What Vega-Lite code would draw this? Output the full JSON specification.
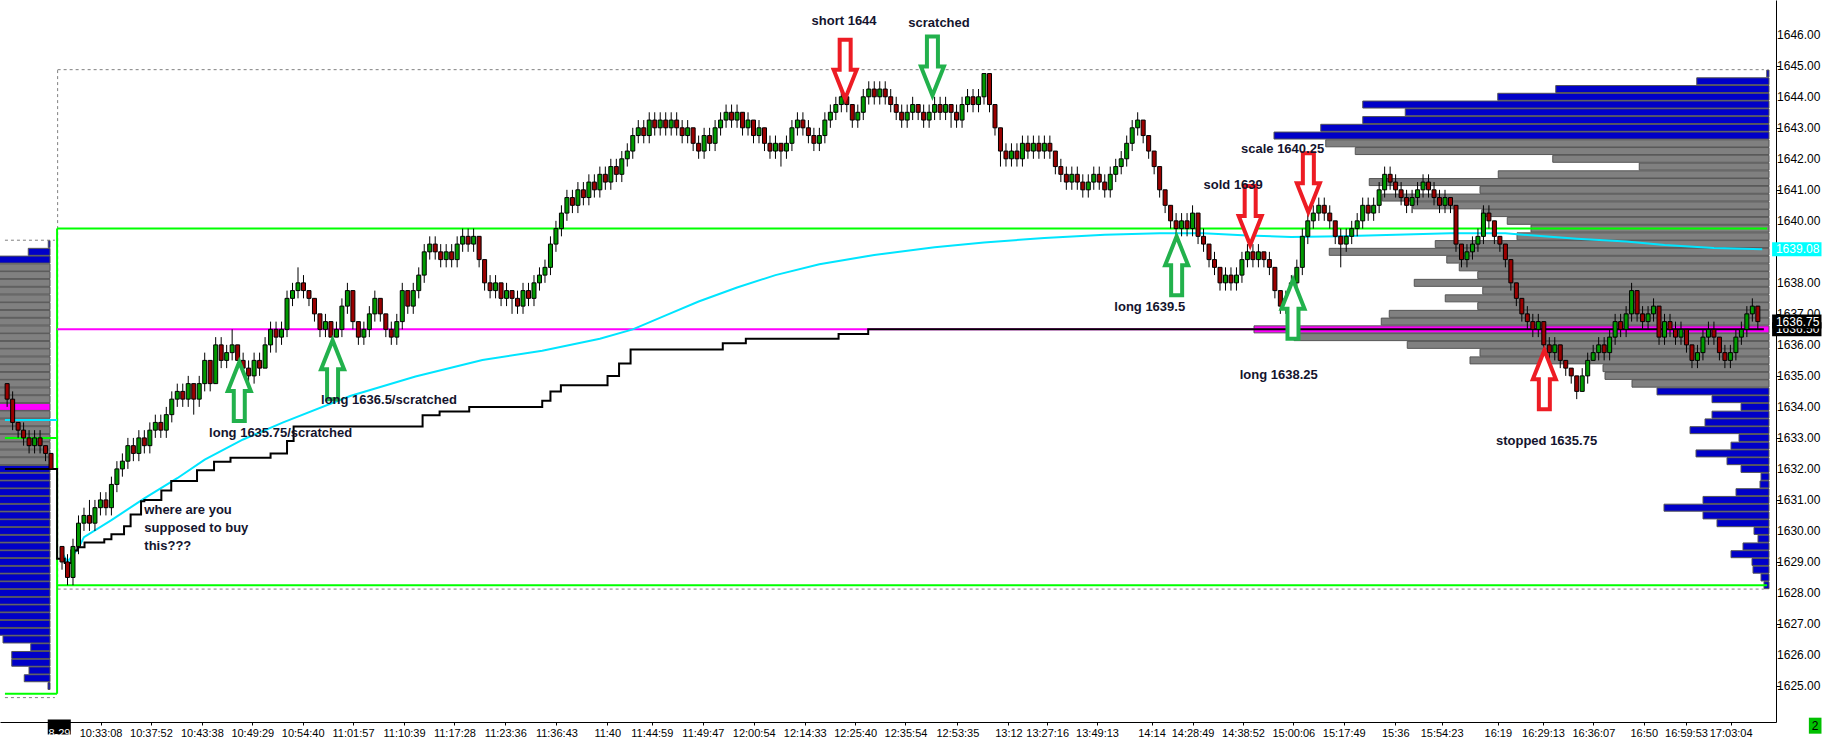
{
  "$schema": "https://vega.github.io/schema/vega-lite/v6.json",
  "width": 1776,
  "height": 722,
  "autosize": {"type": "none"},
  "padding": {"left": 0, "top": 0, "right": 50, "bottom": 18},
  "background": "white",
  "config": {
    "view": {"stroke": null},
    "axis": {"grid": false, "domainColor": "black", "tickColor": "black", "labelColor": "black", "labelFont": "Liberation Sans"}
  },
  "datasets": {
    "rightProfile": [
      {"p":1644.75,"v":9,"t":"out"},{"p":1644.5,"v":289,"t":"out"},{"p":1644.25,"v":853,"t":"out"},{"p":1644,"v":1085,"t":"out"},
      {"p":1643.75,"v":1625,"t":"out"},{"p":1643.5,"v":1455,"t":"out"},{"p":1643.25,"v":1625,"t":"out"},{"p":1643,"v":1793,"t":"out"},
      {"p":1642.75,"v":1980,"t":"out"},{"p":1642.5,"v":1773,"t":"va"},{"p":1642.25,"v":1655,"t":"va"},{"p":1642,"v":865,"t":"va"},
      {"p":1641.75,"v":519,"t":"va"},{"p":1641.5,"v":1083,"t":"va"},{"p":1641.25,"v":1599,"t":"va"},{"p":1641,"v":1156,"t":"va"},
      {"p":1640.75,"v":1547,"t":"va"},{"p":1640.5,"v":1423,"t":"va"},{"p":1640.25,"v":1149,"t":"va"},{"p":1640,"v":1047,"t":"va"},
      {"p":1639.75,"v":952,"t":"va"},{"p":1639.5,"v":1008,"t":"va"},{"p":1639.25,"v":1335,"t":"va"},{"p":1639,"v":1759,"t":"va"},
      {"p":1638.75,"v":1289,"t":"va"},{"p":1638.5,"v":1239,"t":"va"},{"p":1638.25,"v":1165,"t":"va"},{"p":1638,"v":1419,"t":"va"},
      {"p":1637.75,"v":1145,"t":"va"},{"p":1637.5,"v":1295,"t":"va"},{"p":1637.25,"v":1165,"t":"va"},{"p":1637,"v":1519,"t":"va"},
      {"p":1636.75,"v":1551,"t":"va"},{"p":1636.5,"v":2060,"t":"poc"},{"p":1636.25,"v":1900,"t":"va"},{"p":1636,"v":1447,"t":"va"},
      {"p":1635.75,"v":1156,"t":"va"},{"p":1635.5,"v":1196,"t":"va"},{"p":1635.25,"v":664,"t":"va"},{"p":1635,"v":656,"t":"va"},
      {"p":1634.75,"v":548,"t":"va"},{"p":1634.5,"v":448,"t":"out"},{"p":1634.25,"v":228,"t":"out"},{"p":1634,"v":112,"t":"out"},
      {"p":1633.75,"v":228,"t":"out"},{"p":1633.5,"v":256,"t":"out"},{"p":1633.25,"v":316,"t":"out"},{"p":1633,"v":120,"t":"out"},
      {"p":1632.75,"v":152,"t":"out"},{"p":1632.5,"v":292,"t":"out"},{"p":1632.25,"v":168,"t":"out"},{"p":1632,"v":112,"t":"out"},
      {"p":1631.75,"v":32,"t":"out"},{"p":1631.5,"v":36,"t":"out"},{"p":1631.25,"v":132,"t":"out"},{"p":1631,"v":264,"t":"out"},
      {"p":1630.75,"v":420,"t":"out"},{"p":1630.5,"v":264,"t":"out"},{"p":1630.25,"v":208,"t":"out"},{"p":1630,"v":60,"t":"out"},
      {"p":1629.75,"v":44,"t":"out"},{"p":1629.5,"v":104,"t":"out"},{"p":1629.25,"v":152,"t":"out"},{"p":1629,"v":68,"t":"out"},
      {"p":1628.75,"v":64,"t":"out"},{"p":1628.5,"v":32,"t":"out"},{"p":1628.25,"v":20,"t":"out"}
    ],
    "leftProfile": [
      {"p":1639.25,"v":7,"t":"out"},{"p":1639,"v":87,"t":"out"},{"p":1638.75,"v":260,"t":"out"},
      {"p":1638.5,"v":380,"t":"va"},{"p":1638.25,"v":420,"t":"va"},{"p":1638,"v":460,"t":"va"},{"p":1637.75,"v":520,"t":"va"},
      {"p":1637.5,"v":480,"t":"va"},{"p":1637.25,"v":560,"t":"va"},{"p":1637,"v":600,"t":"va"},{"p":1636.75,"v":640,"t":"va"},
      {"p":1636.5,"v":580,"t":"va"},{"p":1636.25,"v":620,"t":"va"},{"p":1636,"v":700,"t":"va"},{"p":1635.75,"v":660,"t":"va"},
      {"p":1635.5,"v":720,"t":"va"},{"p":1635.25,"v":760,"t":"va"},{"p":1635,"v":800,"t":"va"},{"p":1634.75,"v":840,"t":"va"},
      {"p":1634.5,"v":780,"t":"va"},{"p":1634.25,"v":860,"t":"va"},{"p":1634,"v":920,"t":"poc"},{"p":1633.75,"v":820,"t":"va"},
      {"p":1633.5,"v":740,"t":"va"},{"p":1633.25,"v":680,"t":"va"},{"p":1633,"v":640,"t":"va"},{"p":1632.75,"v":560,"t":"va"},
      {"p":1632.5,"v":520,"t":"va"},{"p":1632.25,"v":480,"t":"va"},
      {"p":1632,"v":460,"t":"out"},{"p":1631.75,"v":440,"t":"out"},{"p":1631.5,"v":420,"t":"out"},{"p":1631.25,"v":400,"t":"out"},
      {"p":1631,"v":430,"t":"out"},{"p":1630.75,"v":410,"t":"out"},{"p":1630.5,"v":380,"t":"out"},{"p":1630.25,"v":360,"t":"out"},
      {"p":1630,"v":390,"t":"out"},{"p":1629.75,"v":350,"t":"out"},{"p":1629.5,"v":330,"t":"out"},{"p":1629.25,"v":340,"t":"out"},
      {"p":1629,"v":310,"t":"out"},{"p":1628.75,"v":300,"t":"out"},{"p":1628.5,"v":320,"t":"out"},{"p":1628.25,"v":290,"t":"out"},
      {"p":1628,"v":280,"t":"out"},{"p":1627.75,"v":270,"t":"out"},{"p":1627.5,"v":260,"t":"out"},{"p":1627.25,"v":250,"t":"out"},
      {"p":1627,"v":240,"t":"out"},{"p":1626.75,"v":230,"t":"out"},{"p":1626.5,"v":188,"t":"out"},{"p":1626.25,"v":77,"t":"out"},
      {"p":1626,"v":153,"t":"out"},{"p":1625.75,"v":153,"t":"out"},{"p":1625.5,"v":84,"t":"out"},{"p":1625.25,"v":103,"t":"out"},
      {"p":1625,"v":8,"t":"out"}
    ],
    "priceLabels": [
      {"p":1625,"t":"1625.00"},{"p":1626,"t":"1626.00"},{"p":1627,"t":"1627.00"},{"p":1628,"t":"1628.00"},
      {"p":1629,"t":"1629.00"},{"p":1630,"t":"1630.00"},{"p":1631,"t":"1631.00"},{"p":1632,"t":"1632.00"},
      {"p":1633,"t":"1633.00"},{"p":1634,"t":"1634.00"},{"p":1635,"t":"1635.00"},{"p":1636,"t":"1636.00"},
      {"p":1637,"t":"1637.00"},{"p":1638,"t":"1638.00"},{"p":1640,"t":"1640.00"},{"p":1641,"t":"1641.00"},
      {"p":1642,"t":"1642.00"},{"p":1643,"t":"1643.00"},{"p":1644,"t":"1644.00"},{"p":1645,"t":"1645.00"},
      {"p":1646,"t":"1646.00"}
    ],
    "dashLines": [
      {"x0":1.2,"x1":312.1,"p0":1644.875,"p1":1644.875},
      {"x0":1.2,"x1":312.1,"p0":1628.125,"p1":1628.125},
      {"x0":1.2,"x1":1.2,"p0":1628.125,"p1":1644.875},
      {"x0":-8.4,"x1":0.7,"p0":1639.375,"p1":1639.375},
      {"x0":-8.4,"x1":0.7,"p0":1624.625,"p1":1624.625}
    ],
    "greenLines": [
      {"x0":1.1,"x1":312.7,"p0":1639.75,"p1":1639.75},
      {"x0":1.1,"x1":312.7,"p0":1628.25,"p1":1628.25},
      {"x0":1.1,"x1":1.1,"p0":1624.75,"p1":1639.75},
      {"x0":-8.4,"x1":1.1,"p0":1633,"p1":1633},
      {"x0":-8.4,"x1":1.1,"p0":1624.75,"p1":1624.75}
    ],
    "pocLine": [
      {"x0":1.1,"x1":312.1,"p0":1636.5,"p1":1636.5}
    ],
    "vwap": [
      {"s":"prev","i":-8.4,"p":1633.58},{"s":"prev","i":1.1,"p":1633.58},
      {"s":"today","i":2,"p":1629.3},{"s":"today","i":3,"p":1629.0},{"s":"today","i":5,"p":1629.45},{"s":"today","i":6,"p":1629.8},
      {"s":"today","i":11,"p":1630.35},{"s":"today","i":17,"p":1631.05},{"s":"today","i":23,"p":1631.7},{"s":"today","i":28,"p":1632.3},
      {"s":"today","i":35,"p":1632.95},{"s":"today","i":42.3,"p":1633.5},{"s":"today","i":54.5,"p":1634.35},{"s":"today","i":66.4,"p":1634.98},
      {"s":"today","i":78.6,"p":1635.51},{"s":"today","i":89.5,"p":1635.81},{"s":"today","i":100,"p":1636.2},{"s":"today","i":106,"p":1636.5},
      {"s":"today","i":112,"p":1636.95},{"s":"today","i":118,"p":1637.4},{"s":"today","i":125,"p":1637.85},{"s":"today","i":132,"p":1638.25},
      {"s":"today","i":140,"p":1638.6},{"s":"today","i":150,"p":1638.9},{"s":"today","i":161,"p":1639.15},{"s":"today","i":170,"p":1639.3},
      {"s":"today","i":181,"p":1639.45},{"s":"today","i":192,"p":1639.55},{"s":"today","i":202,"p":1639.6},{"s":"today","i":210,"p":1639.6},
      {"s":"today","i":218,"p":1639.53},{"s":"today","i":226,"p":1639.48},{"s":"today","i":235,"p":1639.5},{"s":"today","i":245,"p":1639.55},
      {"s":"today","i":255,"p":1639.6},{"s":"today","i":265,"p":1639.6},{"s":"today","i":272,"p":1639.5},{"s":"today","i":278,"p":1639.42},
      {"s":"today","i":287,"p":1639.33},{"s":"today","i":294,"p":1639.22},{"s":"today","i":303,"p":1639.12},{"s":"today","i":311.8,"p":1639.08}
    ],
    "steps": [
      {"i":-8.4,"p":1632},{"i":1.1,"p":1629.1},{"i":2.5,"p":1628.97},{"i":3.7,"p":1629.37},{"i":4.8,"p":1629.47},
      {"i":6.1,"p":1629.63},{"i":9.7,"p":1629.73},{"i":11,"p":1629.89},{"i":13.3,"p":1630.15},{"i":14.5,"p":1630.53},
      {"i":16.4,"p":1630.96},{"i":17,"p":1631},{"i":20.1,"p":1631.3},{"i":21.9,"p":1631.61},{"i":26.6,"p":1631.96},
      {"i":29.7,"p":1632.23},{"i":32.7,"p":1632.36},{"i":40,"p":1632.5},{"i":43,"p":1632.9},{"i":44.2,"p":1633.37},
      {"i":67.7,"p":1633.73},{"i":70.8,"p":1633.85},{"i":76.2,"p":1634},{"i":89.5,"p":1634.2},{"i":91,"p":1634.5},
      {"i":92.9,"p":1634.7},{"i":101.4,"p":1635},{"i":103.5,"p":1635.4},{"i":105.6,"p":1635.85},{"i":122.4,"p":1636.05},
      {"i":126.6,"p":1636.2},{"i":143.5,"p":1636.35},{"i":148.9,"p":1636.5},{"i":312.1,"p":1636.5}
    ],
    "bars": [
      {"i":-8,"o":1634.75,"h":1634.75,"l":1634,"c":1634.25},{"i":-7,"o":1634.25,"h":1634.5,"l":1633.25,"c":1633.5},
      {"i":-6,"o":1633.5,"h":1633.5,"l":1633,"c":1633.25},{"i":-5,"o":1633.25,"h":1633.5,"l":1632.75,"c":1633},
      {"i":-4,"o":1633,"h":1633.25,"l":1632.5,"c":1632.75},{"i":-3,"o":1632.75,"h":1633.25,"l":1632.5,"c":1633},
      {"i":-2,"o":1633,"h":1633.25,"l":1632.5,"c":1632.75},{"i":-1,"o":1632.75,"h":1632.75,"l":1632.25,"c":1632.5},
      {"i":0,"o":1632.5,"h":1632.5,"l":1632,"c":1632},
      {"i":2,"o":1629.5,"h":1629.5,"l":1628.75,"c":1629},{"i":3,"o":1629,"h":1629.25,"l":1628.25,"c":1628.5},
      {"i":4,"o":1628.5,"h":1629.75,"l":1628.25,"c":1629.5},{"i":5,"o":1629.5,"h":1630.5,"l":1629.25,"c":1630.25},
      {"i":6,"o":1630.25,"h":1630.75,"l":1630,"c":1630.5},{"i":7,"o":1630.5,"h":1631,"l":1630,"c":1630.25},
      {"i":8,"o":1630.25,"h":1631,"l":1630,"c":1630.75},{"i":9,"o":1630.75,"h":1631.25,"l":1630.5,"c":1631},
      {"i":10,"o":1631,"h":1631.25,"l":1630.5,"c":1630.75},{"i":11,"o":1630.75,"h":1631.75,"l":1630.5,"c":1631.5},
      {"i":12,"o":1631.5,"h":1632.25,"l":1631.25,"c":1632},{"i":13,"o":1632,"h":1632.5,"l":1631.75,"c":1632.25},
      {"i":14,"o":1632.25,"h":1633,"l":1632,"c":1632.75},{"i":15,"o":1632.75,"h":1633,"l":1632.25,"c":1632.5},
      {"i":16,"o":1632.5,"h":1633.25,"l":1632.25,"c":1633},{"i":17,"o":1633,"h":1633.25,"l":1632.5,"c":1632.75},
      {"i":18,"o":1632.75,"h":1633.5,"l":1632.5,"c":1633.25},{"i":19,"o":1633.25,"h":1633.75,"l":1633,"c":1633.5},
      {"i":20,"o":1633.5,"h":1633.75,"l":1633,"c":1633.25},{"i":21,"o":1633.25,"h":1634,"l":1633,"c":1633.75},
      {"i":22,"o":1633.75,"h":1634.5,"l":1633.5,"c":1634.25},{"i":23,"o":1634.25,"h":1634.75,"l":1634,"c":1634.5},
      {"i":24,"o":1634.5,"h":1634.75,"l":1634,"c":1634.25},{"i":25,"o":1634.25,"h":1635,"l":1634,"c":1634.75},
      {"i":26,"o":1634.75,"h":1634.75,"l":1633.75,"c":1634.25},{"i":27,"o":1634.25,"h":1635,"l":1634,"c":1634.75},
      {"i":28,"o":1634.75,"h":1635.75,"l":1634.5,"c":1635.5},{"i":29,"o":1635.5,"h":1635.5,"l":1634.5,"c":1634.75},
      {"i":30,"o":1634.75,"h":1636.25,"l":1634.75,"c":1636},{"i":31,"o":1636,"h":1636.25,"l":1635.25,"c":1635.5},
      {"i":32,"o":1635.5,"h":1636,"l":1635.25,"c":1635.75},{"i":33,"o":1635.75,"h":1636.5,"l":1635.5,"c":1636},
      {"i":34,"o":1636,"h":1636,"l":1635.5,"c":1635.5},{"i":35,"o":1635.5,"h":1635.75,"l":1635,"c":1635.25},
      {"i":36,"o":1635.25,"h":1635.5,"l":1634.75,"c":1635},{"i":37,"o":1635,"h":1635.75,"l":1634.75,"c":1635.5},
      {"i":38,"o":1635.5,"h":1635.75,"l":1635,"c":1635.25},{"i":39,"o":1635.25,"h":1636.25,"l":1635.25,"c":1636},
      {"i":40,"o":1636,"h":1636.75,"l":1635.75,"c":1636.5},{"i":41,"o":1636.5,"h":1636.75,"l":1635.75,"c":1636.25},
      {"i":42,"o":1636.25,"h":1636.75,"l":1636,"c":1636.5},{"i":43,"o":1636.5,"h":1637.75,"l":1636.25,"c":1637.5},
      {"i":44,"o":1637.5,"h":1638,"l":1637.25,"c":1637.75},{"i":45,"o":1637.75,"h":1638.5,"l":1637.5,"c":1638},
      {"i":46,"o":1638,"h":1638.25,"l":1637.5,"c":1637.75},{"i":47,"o":1637.75,"h":1637.75,"l":1637.25,"c":1637.5},
      {"i":48,"o":1637.5,"h":1637.5,"l":1636.75,"c":1637},{"i":49,"o":1637,"h":1637,"l":1636.25,"c":1636.5},
      {"i":50,"o":1636.5,"h":1637,"l":1636.25,"c":1636.75},{"i":51,"o":1636.75,"h":1636.75,"l":1636.25,"c":1636.25},
      {"i":52,"o":1636.25,"h":1636.75,"l":1636.25,"c":1636.5},{"i":53,"o":1636.5,"h":1637.5,"l":1636.25,"c":1637.25},
      {"i":54,"o":1637.25,"h":1638,"l":1637,"c":1637.75},{"i":55,"o":1637.75,"h":1637.75,"l":1636.5,"c":1636.75},
      {"i":56,"o":1636.75,"h":1636.75,"l":1636,"c":1636.25},{"i":57,"o":1636.25,"h":1636.75,"l":1636,"c":1636.5},
      {"i":58,"o":1636.5,"h":1637.25,"l":1636.25,"c":1637},{"i":59,"o":1637,"h":1637.75,"l":1636.75,"c":1637.5},
      {"i":60,"o":1637.5,"h":1637.5,"l":1636.75,"c":1637},{"i":61,"o":1637,"h":1637,"l":1636.25,"c":1636.5},
      {"i":62,"o":1636.5,"h":1636.75,"l":1636,"c":1636.25},{"i":63,"o":1636.25,"h":1637,"l":1636,"c":1636.75},
      {"i":64,"o":1636.75,"h":1638,"l":1636.5,"c":1637.75},{"i":65,"o":1637.75,"h":1637.75,"l":1637,"c":1637.25},
      {"i":66,"o":1637.25,"h":1638,"l":1637,"c":1637.75},{"i":67,"o":1637.75,"h":1638.5,"l":1637.5,"c":1638.25},
      {"i":68,"o":1638.25,"h":1639.25,"l":1638,"c":1639},{"i":69,"o":1639,"h":1639.5,"l":1638.75,"c":1639.25},
      {"i":70,"o":1639.25,"h":1639.5,"l":1638.75,"c":1639},{"i":71,"o":1639,"h":1639.25,"l":1638.5,"c":1638.75},
      {"i":72,"o":1638.75,"h":1639.25,"l":1638.5,"c":1639},{"i":73,"o":1639,"h":1639.25,"l":1638.5,"c":1638.75},
      {"i":74,"o":1638.75,"h":1639.5,"l":1638.5,"c":1639.25},{"i":75,"o":1639.25,"h":1639.75,"l":1639,"c":1639.5},
      {"i":76,"o":1639.5,"h":1639.75,"l":1639,"c":1639.25},{"i":77,"o":1639.25,"h":1639.75,"l":1639,"c":1639.5},
      {"i":78,"o":1639.5,"h":1639.5,"l":1638.5,"c":1638.75},{"i":79,"o":1638.75,"h":1638.75,"l":1637.75,"c":1638},
      {"i":80,"o":1638,"h":1638.25,"l":1637.5,"c":1637.75},{"i":81,"o":1637.75,"h":1638.25,"l":1637.5,"c":1638},
      {"i":82,"o":1638,"h":1638,"l":1637.25,"c":1637.5},{"i":83,"o":1637.5,"h":1638,"l":1637.25,"c":1637.75},
      {"i":84,"o":1637.75,"h":1637.75,"l":1637,"c":1637.5},{"i":85,"o":1637.5,"h":1637.75,"l":1637,"c":1637.25},
      {"i":86,"o":1637.25,"h":1638,"l":1637,"c":1637.75},{"i":87,"o":1637.75,"h":1638,"l":1637.25,"c":1637.5},
      {"i":88,"o":1637.5,"h":1638.25,"l":1637.25,"c":1638},{"i":89,"o":1638,"h":1638.5,"l":1637.75,"c":1638.25},
      {"i":90,"o":1638.25,"h":1638.75,"l":1638,"c":1638.5},{"i":91,"o":1638.5,"h":1639.5,"l":1638.25,"c":1639.25},
      {"i":92,"o":1639.25,"h":1640,"l":1639,"c":1639.75},{"i":93,"o":1639.75,"h":1640.5,"l":1639.5,"c":1640.25},
      {"i":94,"o":1640.25,"h":1641,"l":1640,"c":1640.75},{"i":95,"o":1640.75,"h":1641,"l":1640.25,"c":1640.5},
      {"i":96,"o":1640.5,"h":1641.25,"l":1640.25,"c":1641},{"i":97,"o":1641,"h":1641.25,"l":1640.5,"c":1640.75},
      {"i":98,"o":1640.75,"h":1641.5,"l":1640.5,"c":1641.25},{"i":99,"o":1641.25,"h":1641.5,"l":1640.75,"c":1641},
      {"i":100,"o":1641,"h":1641.75,"l":1640.75,"c":1641.5},{"i":101,"o":1641.5,"h":1641.75,"l":1641,"c":1641.25},
      {"i":102,"o":1641.25,"h":1642,"l":1641,"c":1641.75},{"i":103,"o":1641.75,"h":1642,"l":1641.25,"c":1641.5},
      {"i":104,"o":1641.5,"h":1642.25,"l":1641.25,"c":1642},{"i":105,"o":1642,"h":1642.5,"l":1641.75,"c":1642.25},
      {"i":106,"o":1642.25,"h":1643,"l":1642,"c":1642.75},{"i":107,"o":1642.75,"h":1643.25,"l":1642.5,"c":1643},
      {"i":108,"o":1643,"h":1643.25,"l":1642.5,"c":1642.75},{"i":109,"o":1642.75,"h":1643.5,"l":1642.5,"c":1643.25},
      {"i":110,"o":1643.25,"h":1643.5,"l":1642.75,"c":1643},{"i":111,"o":1643,"h":1643.5,"l":1642.75,"c":1643.25},
      {"i":112,"o":1643.25,"h":1643.5,"l":1642.75,"c":1643},{"i":113,"o":1643,"h":1643.5,"l":1642.75,"c":1643.25},
      {"i":114,"o":1643.25,"h":1643.5,"l":1642.75,"c":1643},{"i":115,"o":1643,"h":1643.25,"l":1642.5,"c":1642.75},
      {"i":116,"o":1642.75,"h":1643.25,"l":1642.5,"c":1643},{"i":117,"o":1643,"h":1643,"l":1642.25,"c":1642.5},
      {"i":118,"o":1642.5,"h":1642.75,"l":1642,"c":1642.25},{"i":119,"o":1642.25,"h":1643,"l":1642,"c":1642.75},
      {"i":120,"o":1642.75,"h":1643,"l":1642.25,"c":1642.5},{"i":121,"o":1642.5,"h":1643.25,"l":1642.25,"c":1643},
      {"i":122,"o":1643,"h":1643.5,"l":1642.75,"c":1643.25},{"i":123,"o":1643.25,"h":1643.75,"l":1643,"c":1643.5},
      {"i":124,"o":1643.5,"h":1643.75,"l":1643,"c":1643.25},{"i":125,"o":1643.25,"h":1643.75,"l":1643,"c":1643.5},
      {"i":126,"o":1643.5,"h":1643.5,"l":1642.75,"c":1643},{"i":127,"o":1643,"h":1643.5,"l":1642.75,"c":1643.25},
      {"i":128,"o":1643.25,"h":1643.25,"l":1642.5,"c":1642.75},{"i":129,"o":1642.75,"h":1643.25,"l":1642.5,"c":1643},
      {"i":130,"o":1643,"h":1643,"l":1642.25,"c":1642.5},{"i":131,"o":1642.5,"h":1642.75,"l":1642,"c":1642.25},
      {"i":132,"o":1642.25,"h":1642.75,"l":1642,"c":1642.5},{"i":133,"o":1642.5,"h":1642.5,"l":1641.75,"c":1642.25},
      {"i":134,"o":1642.25,"h":1642.75,"l":1642,"c":1642.5},{"i":135,"o":1642.5,"h":1643.25,"l":1642.25,"c":1643},
      {"i":136,"o":1643,"h":1643.5,"l":1642.75,"c":1643.25},{"i":137,"o":1643.25,"h":1643.5,"l":1642.75,"c":1643},
      {"i":138,"o":1643,"h":1643.25,"l":1642.5,"c":1642.75},{"i":139,"o":1642.75,"h":1643,"l":1642.25,"c":1642.5},
      {"i":140,"o":1642.5,"h":1643,"l":1642.25,"c":1642.75},{"i":141,"o":1642.75,"h":1643.5,"l":1642.5,"c":1643.25},
      {"i":142,"o":1643.25,"h":1643.75,"l":1643,"c":1643.5},{"i":143,"o":1643.5,"h":1644,"l":1643.25,"c":1643.75},
      {"i":144,"o":1643.75,"h":1644.25,"l":1643.5,"c":1644},{"i":145,"o":1644,"h":1644,"l":1643.5,"c":1643.75},
      {"i":146,"o":1643.75,"h":1643.75,"l":1643,"c":1643.25},{"i":147,"o":1643.25,"h":1643.75,"l":1643,"c":1643.5},
      {"i":148,"o":1643.5,"h":1644.25,"l":1643.25,"c":1644},{"i":149,"o":1644,"h":1644.5,"l":1643.75,"c":1644.25},
      {"i":150,"o":1644.25,"h":1644.5,"l":1643.75,"c":1644},{"i":151,"o":1644,"h":1644.5,"l":1643.75,"c":1644.25},
      {"i":152,"o":1644.25,"h":1644.5,"l":1643.75,"c":1644},{"i":153,"o":1644,"h":1644.25,"l":1643.5,"c":1643.75},
      {"i":154,"o":1643.75,"h":1644,"l":1643.25,"c":1643.5},{"i":155,"o":1643.5,"h":1643.75,"l":1643,"c":1643.25},
      {"i":156,"o":1643.25,"h":1643.75,"l":1643,"c":1643.5},{"i":157,"o":1643.5,"h":1644,"l":1643.25,"c":1643.75},
      {"i":158,"o":1643.75,"h":1643.75,"l":1643.25,"c":1643.5},{"i":159,"o":1643.5,"h":1643.75,"l":1643,"c":1643.25},
      {"i":160,"o":1643.25,"h":1643.75,"l":1643,"c":1643.5},{"i":161,"o":1643.5,"h":1644,"l":1643.25,"c":1643.75},
      {"i":162,"o":1643.75,"h":1644,"l":1643.25,"c":1643.5},{"i":163,"o":1643.5,"h":1644,"l":1643.25,"c":1643.75},
      {"i":164,"o":1643.75,"h":1643.75,"l":1643,"c":1643.5},{"i":165,"o":1643.5,"h":1643.75,"l":1643,"c":1643.25},
      {"i":166,"o":1643.25,"h":1644,"l":1643,"c":1643.75},{"i":167,"o":1643.75,"h":1644.25,"l":1643.5,"c":1644},
      {"i":168,"o":1644,"h":1644.25,"l":1643.5,"c":1643.75},{"i":169,"o":1643.75,"h":1644.25,"l":1643.5,"c":1644},
      {"i":170,"o":1644,"h":1644.75,"l":1643.75,"c":1644.75},{"i":171,"o":1644.75,"h":1644.75,"l":1643.5,"c":1643.75},
      {"i":172,"o":1643.75,"h":1643.75,"l":1642.75,"c":1643},{"i":173,"o":1643,"h":1643,"l":1641.75,"c":1642.25},
      {"i":174,"o":1642.25,"h":1642.5,"l":1641.75,"c":1642},{"i":175,"o":1642,"h":1642.5,"l":1641.75,"c":1642.25},
      {"i":176,"o":1642.25,"h":1642.5,"l":1641.75,"c":1642},{"i":177,"o":1642,"h":1642.75,"l":1641.75,"c":1642.5},
      {"i":178,"o":1642.5,"h":1642.75,"l":1642,"c":1642.25},{"i":179,"o":1642.25,"h":1642.75,"l":1642,"c":1642.5},
      {"i":180,"o":1642.5,"h":1642.75,"l":1642,"c":1642.25},{"i":181,"o":1642.25,"h":1642.75,"l":1642,"c":1642.5},
      {"i":182,"o":1642.5,"h":1642.75,"l":1642,"c":1642.25},{"i":183,"o":1642.25,"h":1642.25,"l":1641.5,"c":1641.75},
      {"i":184,"o":1641.75,"h":1642,"l":1641.25,"c":1641.5},{"i":185,"o":1641.5,"h":1641.75,"l":1641,"c":1641.25},
      {"i":186,"o":1641.25,"h":1641.75,"l":1641,"c":1641.5},{"i":187,"o":1641.5,"h":1641.75,"l":1641,"c":1641.25},
      {"i":188,"o":1641.25,"h":1641.5,"l":1640.75,"c":1641},{"i":189,"o":1641,"h":1641.5,"l":1640.75,"c":1641.25},
      {"i":190,"o":1641.25,"h":1641.75,"l":1641,"c":1641.5},{"i":191,"o":1641.5,"h":1641.75,"l":1641,"c":1641.25},
      {"i":192,"o":1641.25,"h":1641.5,"l":1640.75,"c":1641},{"i":193,"o":1641,"h":1641.75,"l":1640.75,"c":1641.5},
      {"i":194,"o":1641.5,"h":1642,"l":1641.25,"c":1641.75},{"i":195,"o":1641.75,"h":1642.25,"l":1641.5,"c":1642},
      {"i":196,"o":1642,"h":1642.75,"l":1641.75,"c":1642.5},{"i":197,"o":1642.5,"h":1643.25,"l":1642.25,"c":1643},
      {"i":198,"o":1643,"h":1643.5,"l":1642.75,"c":1643.25},{"i":199,"o":1643.25,"h":1643.25,"l":1642.5,"c":1642.75},
      {"i":200,"o":1642.75,"h":1642.75,"l":1642,"c":1642.25},{"i":201,"o":1642.25,"h":1642.25,"l":1641.5,"c":1641.75},
      {"i":202,"o":1641.75,"h":1641.75,"l":1640.75,"c":1641},{"i":203,"o":1641,"h":1641,"l":1640.25,"c":1640.5},
      {"i":204,"o":1640.5,"h":1640.5,"l":1639.75,"c":1640},{"i":205,"o":1640,"h":1640.25,"l":1639.5,"c":1639.75},
      {"i":206,"o":1639.75,"h":1640.25,"l":1639.5,"c":1640},{"i":207,"o":1640,"h":1640.25,"l":1639.5,"c":1639.75},
      {"i":208,"o":1639.75,"h":1640.5,"l":1639.5,"c":1640.25},{"i":209,"o":1640.25,"h":1640.25,"l":1639.25,"c":1639.5},
      {"i":210,"o":1639.5,"h":1639.75,"l":1639,"c":1639.25},{"i":211,"o":1639.25,"h":1639.25,"l":1638.5,"c":1638.75},
      {"i":212,"o":1638.75,"h":1639,"l":1638.25,"c":1638.5},{"i":213,"o":1638.5,"h":1638.5,"l":1637.75,"c":1638},
      {"i":214,"o":1638,"h":1638.5,"l":1637.75,"c":1638.25},{"i":215,"o":1638.25,"h":1638.5,"l":1637.75,"c":1638},
      {"i":216,"o":1638,"h":1638.5,"l":1637.75,"c":1638.25},{"i":217,"o":1638.25,"h":1639,"l":1638,"c":1638.75},
      {"i":218,"o":1638.75,"h":1639.25,"l":1638.5,"c":1639},{"i":219,"o":1639,"h":1639.25,"l":1638.5,"c":1638.75},
      {"i":220,"o":1638.75,"h":1639.25,"l":1638.5,"c":1639},{"i":221,"o":1639,"h":1639,"l":1638.5,"c":1638.75},
      {"i":222,"o":1638.75,"h":1639,"l":1638.25,"c":1638.5},{"i":223,"o":1638.5,"h":1638.5,"l":1637.5,"c":1637.75},
      {"i":224,"o":1637.75,"h":1637.75,"l":1637,"c":1637.25},{"i":225,"o":1637.25,"h":1637.75,"l":1637,"c":1637.5},
      {"i":226,"o":1637.5,"h":1638.25,"l":1637.25,"c":1638},{"i":227,"o":1638,"h":1638.75,"l":1637.75,"c":1638.5},
      {"i":228,"o":1638.5,"h":1639.75,"l":1638.25,"c":1639.5},{"i":229,"o":1639.5,"h":1640.25,"l":1639.25,"c":1640},
      {"i":230,"o":1640,"h":1640.5,"l":1639.75,"c":1640.25},{"i":231,"o":1640.25,"h":1640.75,"l":1640,"c":1640.5},
      {"i":232,"o":1640.5,"h":1640.75,"l":1640,"c":1640.25},{"i":233,"o":1640.25,"h":1640.5,"l":1639.75,"c":1640},
      {"i":234,"o":1640,"h":1640,"l":1639.25,"c":1639.5},{"i":235,"o":1639.5,"h":1639.75,"l":1638.5,"c":1639.25},
      {"i":236,"o":1639.25,"h":1639.75,"l":1639,"c":1639.5},{"i":237,"o":1639.5,"h":1640,"l":1639.25,"c":1639.75},
      {"i":238,"o":1639.75,"h":1640.25,"l":1639.5,"c":1640},{"i":239,"o":1640,"h":1640.75,"l":1639.75,"c":1640.5},
      {"i":240,"o":1640.5,"h":1640.75,"l":1640,"c":1640.25},{"i":241,"o":1640.25,"h":1640.75,"l":1640,"c":1640.5},
      {"i":242,"o":1640.5,"h":1641.25,"l":1640.25,"c":1641},{"i":243,"o":1641,"h":1641.75,"l":1640.75,"c":1641.5},
      {"i":244,"o":1641.5,"h":1641.75,"l":1641,"c":1641.25},{"i":245,"o":1641.25,"h":1641.5,"l":1640.75,"c":1641},
      {"i":246,"o":1641,"h":1641.25,"l":1640.5,"c":1640.75},{"i":247,"o":1640.75,"h":1641,"l":1640.25,"c":1640.5},
      {"i":248,"o":1640.5,"h":1641,"l":1640.25,"c":1640.75},{"i":249,"o":1640.75,"h":1641.25,"l":1640.5,"c":1641},
      {"i":250,"o":1641,"h":1641.5,"l":1640.75,"c":1641.25},{"i":251,"o":1641.25,"h":1641.5,"l":1640.75,"c":1641},
      {"i":252,"o":1641,"h":1641.25,"l":1640.5,"c":1640.75},{"i":253,"o":1640.75,"h":1641,"l":1640.25,"c":1640.5},
      {"i":254,"o":1640.5,"h":1641,"l":1640.25,"c":1640.75},{"i":255,"o":1640.75,"h":1640.75,"l":1640.25,"c":1640.5},
      {"i":256,"o":1640.5,"h":1640.5,"l":1639,"c":1639.25},{"i":257,"o":1639.25,"h":1639.25,"l":1638.5,"c":1638.75},
      {"i":258,"o":1638.75,"h":1639.25,"l":1638.5,"c":1639},{"i":259,"o":1639,"h":1639.5,"l":1638.75,"c":1639.25},
      {"i":260,"o":1639.25,"h":1639.75,"l":1639,"c":1639.5},{"i":261,"o":1639.5,"h":1640.5,"l":1639.25,"c":1640.25},
      {"i":262,"o":1640.25,"h":1640.5,"l":1639.75,"c":1640},{"i":263,"o":1640,"h":1640,"l":1639.25,"c":1639.5},
      {"i":264,"o":1639.5,"h":1639.5,"l":1639,"c":1639.25},{"i":265,"o":1639.25,"h":1639.25,"l":1638.5,"c":1638.75},
      {"i":266,"o":1638.75,"h":1638.75,"l":1637.75,"c":1638},{"i":267,"o":1638,"h":1638,"l":1637.25,"c":1637.5},
      {"i":268,"o":1637.5,"h":1637.5,"l":1636.75,"c":1637},{"i":269,"o":1637,"h":1637.25,"l":1636.5,"c":1636.75},
      {"i":270,"o":1636.75,"h":1637,"l":1636.25,"c":1636.5},{"i":271,"o":1636.5,"h":1637,"l":1636.25,"c":1636.75},
      {"i":272,"o":1636.75,"h":1636.75,"l":1635.75,"c":1636},{"i":273,"o":1636,"h":1636.25,"l":1635.5,"c":1635.75},
      {"i":274,"o":1635.75,"h":1636.25,"l":1635.5,"c":1636},{"i":275,"o":1636,"h":1636,"l":1635.25,"c":1635.5},
      {"i":276,"o":1635.5,"h":1635.5,"l":1635,"c":1635.25},{"i":277,"o":1635.25,"h":1635.25,"l":1634.75,"c":1635},
      {"i":278,"o":1635,"h":1635,"l":1634.25,"c":1634.5},{"i":279,"o":1634.5,"h":1635.25,"l":1634.5,"c":1635},
      {"i":280,"o":1635,"h":1635.75,"l":1634.75,"c":1635.5},{"i":281,"o":1635.5,"h":1636,"l":1635.5,"c":1635.75},
      {"i":282,"o":1635.75,"h":1636.25,"l":1635.5,"c":1636},{"i":283,"o":1636,"h":1636.25,"l":1635.5,"c":1635.75},
      {"i":284,"o":1635.75,"h":1636.5,"l":1635.5,"c":1636.25},{"i":285,"o":1636.25,"h":1637,"l":1636,"c":1636.75},
      {"i":286,"o":1636.75,"h":1637,"l":1636.25,"c":1636.5},{"i":287,"o":1636.5,"h":1637.25,"l":1636.25,"c":1637},
      {"i":288,"o":1637,"h":1638,"l":1636.75,"c":1637.75},{"i":289,"o":1637.75,"h":1637.75,"l":1636.75,"c":1637},
      {"i":290,"o":1637,"h":1637.25,"l":1636.5,"c":1636.75},{"i":291,"o":1636.75,"h":1637.25,"l":1636.5,"c":1637},
      {"i":292,"o":1637,"h":1637.5,"l":1636.75,"c":1637.25},{"i":293,"o":1637.25,"h":1637.25,"l":1636,"c":1636.25},
      {"i":294,"o":1636.25,"h":1637,"l":1636,"c":1636.75},{"i":295,"o":1636.75,"h":1637,"l":1636.25,"c":1636.5},
      {"i":296,"o":1636.5,"h":1636.75,"l":1636,"c":1636.25},{"i":297,"o":1636.25,"h":1636.75,"l":1636,"c":1636.5},
      {"i":298,"o":1636.5,"h":1636.5,"l":1635.75,"c":1636},{"i":299,"o":1636,"h":1636,"l":1635.25,"c":1635.5},
      {"i":300,"o":1635.5,"h":1636,"l":1635.25,"c":1635.75},{"i":301,"o":1635.75,"h":1636.5,"l":1635.5,"c":1636.25},
      {"i":302,"o":1636.25,"h":1636.75,"l":1636,"c":1636.5},{"i":303,"o":1636.5,"h":1636.75,"l":1636,"c":1636.25},
      {"i":304,"o":1636.25,"h":1636.25,"l":1635.5,"c":1635.75},{"i":305,"o":1635.75,"h":1636,"l":1635.25,"c":1635.5},
      {"i":306,"o":1635.5,"h":1636,"l":1635.25,"c":1635.75},{"i":307,"o":1635.75,"h":1636.5,"l":1635.5,"c":1636.25},
      {"i":308,"o":1636.25,"h":1636.75,"l":1636,"c":1636.5},{"i":309,"o":1636.5,"h":1637.25,"l":1636.25,"c":1637},
      {"i":310,"o":1637,"h":1637.5,"l":1636.75,"c":1637.25},{"i":311,"o":1637.25,"h":1637.25,"l":1636.5,"c":1636.75}
    ],
    "trades": [
      {"i":34.3,"p":1635.45,"dir":"up","side":"buy"},
      {"i":51.3,"p":1636.15,"dir":"up","side":"buy"},
      {"i":144.7,"p":1643.94,"dir":"down","side":"sell"},
      {"i":160.6,"p":1644.04,"dir":"down","side":"buy"},
      {"i":205.1,"p":1639.5,"dir":"up","side":"buy"},
      {"i":218.5,"p":1639.22,"dir":"down","side":"sell"},
      {"i":226.3,"p":1638.1,"dir":"up","side":"buy"},
      {"i":229.1,"p":1640.28,"dir":"down","side":"sell"},
      {"i":272.1,"p":1635.83,"dir":"up","side":"sell"}
    ],
    "notesCentered": [
      {"i":144.5,"p":1646.45,"t":"short 1644"},
      {"i":161.8,"p":1646.38,"t":"scratched"},
      {"i":200.2,"p":1637.21,"t":"long 1639.5"},
      {"i":215.4,"p":1641.15,"t":"sold 1639"},
      {"i":224.4,"p":1642.32,"t":"scale 1640.25"},
      {"i":223.7,"p":1635.04,"t":"long 1638.25"},
      {"i":272.5,"p":1632.9,"t":"stopped 1635.75"}
    ],
    "notesLeft": [
      {"i":28.8,"p":1633.16,"t":"long 1635.75/scratched"},
      {"i":49.2,"p":1634.21,"t":"long 1636.5/scratched"},
      {"i":17,"p":1630.69,"t":"where are you"},
      {"i":17,"p":1630.11,"t":"supposed to buy"},
      {"i":17,"p":1629.52,"t":"this???"}
    ],
    "tagVwap": [{"p":1639.08,"label":"1639.08"}],
    "tagPoc": [{"p":1636.5,"label":"1636.50"}],
    "tagLast": [{"p":1636.75,"label":"1636.75"}]
  },
  "layer": [
    {
      "data": {"name": "rightProfile"},
      "mark": {"type": "bar", "size": 7, "stroke": "#555555", "strokeWidth": 1, "clip": true},
      "encoding": {
        "y": {"field": "p", "type": "quantitative", "title": null,
          "scale": {"domain": [1624.0, 1646.96], "nice": false, "zero": false},
          "axis": {"orient": "right", "values": [1625,1626,1627,1628,1629,1630,1631,1632,1633,1634,1635,1636,1637,1638,1639,1640,1641,1642,1643,1644,1645,1646],
            "labels": false, "tickSize": 4, "title": null}},
        "x": {"field": "v", "type": "quantitative", "title": null,
          "scale": {"domain": [-28, 7076], "reverse": true, "nice": false, "zero": false}, "axis": null},
        "x2": {"datum": 0},
        "color": {"field": "t", "type": "nominal",
          "scale": {"domain": ["va", "out", "poc"], "range": ["#808080", "#0000c8", "#ff00ff"]}, "legend": null}
      }
    },
    {
      "data": {"name": "leftProfile"},
      "mark": {"type": "bar", "size": 7, "stroke": "#555555", "strokeWidth": 1, "clip": true},
      "encoding": {
        "y": {"field": "p", "type": "quantitative", "title": null},
        "x": {"field": "v", "type": "quantitative", "title": null,
          "scale": {"domain": [-6904, 200], "reverse": true, "nice": false, "zero": false}, "axis": null},
        "x2": {"datum": 0},
        "color": {"field": "t", "type": "nominal", "legend": null}
      }
    },
    {
      "layer": [
        {
          "data": {"name": "dashLines"},
          "mark": {"type": "rule", "color": "#808080", "strokeWidth": 1, "strokeDash": [3, 3]},
          "encoding": {
            "x": {"field": "x0", "type": "quantitative", "title": null,
              "scale": {"domain": [-8.39, 313.4], "nice": false, "zero": false},
              "axis": {
                "orient": "bottom", "title": null,
                "values": [1.43,9.02,18.2,27.48,36.67,45.85,55.02,64.32,73.5,82.78,92.08,101.35,109.47,118.77,128.04,137.34,146.52,155.69,165.15,174.45,181.51,190.59,200.52,208,217.19,226.36,235.55,244.93,253.38,263.62,271.86,281.03,290.21,297.91,306.05],
                "labelExpr": "['8-29','10:33:08','10:37:52','10:43:38','10:49:29','10:54:40','11:01:57','11:10:39','11:17:28','11:23:36','11:36:43','11:40','11:44:59','11:49:47','12:00:54','12:14:33','12:25:40','12:35:54','12:53:35','13:12','13:27:16','13:49:13','14:14','14:28:49','14:38:52','15:00:06','15:17:49','15:36','15:54:23','16:19','16:29:13','16:36:07','16:50','16:59:53','17:03:04'][indexof([1.43,9.02,18.2,27.48,36.67,45.85,55.02,64.32,73.5,82.78,92.08,101.35,109.47,118.77,128.04,137.34,146.52,155.69,165.15,174.45,181.51,190.59,200.52,208,217.19,226.36,235.55,244.93,253.38,263.62,271.86,281.03,290.21,297.91,306.05], datum.value)]",
                "tickSize": 3, "labelFontSize": 11, "labelPadding": 2, "labelOverlap": false, "labelFlush": false, "labelBound": false,
                "zindex": 1,
                "labelColor": {"condition": {"test": "datum.value < 5", "value": "white"}, "value": "black"}
              }},
            "x2": {"field": "x1"},
            "y": {"field": "p0", "type": "quantitative", "title": null},
            "y2": {"field": "p1"}
          }
        },
        {
          "data": {"name": "greenLines"},
          "mark": {"type": "rule", "color": "#00ff00", "strokeWidth": 2},
          "encoding": {
            "x": {"field": "x0", "type": "quantitative", "title": null},
            "x2": {"field": "x1"},
            "y": {"field": "p0", "type": "quantitative", "title": null},
            "y2": {"field": "p1"}
          }
        },
        {
          "data": {"name": "pocLine"},
          "mark": {"type": "rule", "color": "#ff00ff", "strokeWidth": 2},
          "encoding": {
            "x": {"field": "x0", "type": "quantitative", "title": null},
            "x2": {"field": "x1"},
            "y": {"field": "p0", "type": "quantitative", "title": null},
            "y2": {"field": "p1"}
          }
        },
        {
          "data": {"name": "vwap"},
          "mark": {"type": "line", "color": "#00e5ff", "strokeWidth": 2},
          "encoding": {
            "x": {"field": "i", "type": "quantitative", "title": null},
            "y": {"field": "p", "type": "quantitative", "title": null},
            "detail": {"field": "s", "type": "nominal"}
          }
        },
        {
          "data": {"name": "steps"},
          "mark": {"type": "line", "color": "black", "strokeWidth": 2, "interpolate": "step-after"},
          "encoding": {
            "x": {"field": "i", "type": "quantitative", "title": null},
            "y": {"field": "p", "type": "quantitative", "title": null}
          }
        },
        {
          "data": {"name": "bars"},
          "mark": {"type": "rule", "color": "black", "strokeWidth": 1},
          "encoding": {
            "x": {"field": "i", "type": "quantitative", "title": null},
            "y": {"field": "l", "type": "quantitative", "title": null},
            "y2": {"field": "h"}
          }
        },
        {
          "data": {"name": "bars"},
          "mark": {"type": "bar", "size": 4, "stroke": "black", "strokeWidth": 1},
          "encoding": {
            "x": {"field": "i", "type": "quantitative", "title": null},
            "y": {"field": "o", "type": "quantitative", "title": null},
            "y2": {"field": "c"},
            "color": {"condition": {"test": "datum.c >= datum.o", "value": "#009a00"}, "value": "#9a0000"}
          }
        },
        {
          "data": {"name": "trades"},
          "mark": {"type": "point", "filled": true, "size": 400, "strokeWidth": 4, "opacity": 1, "fill": "white"},
          "encoding": {
            "x": {"field": "i", "type": "quantitative", "title": null},
            "y": {"field": "p", "type": "quantitative", "title": null},
            "fill": {"value": "white"},
            "shape": {"field": "dir", "type": "nominal", "legend": null,
              "scale": {"domain": ["down", "up"],
                "range": ["M0,0L-1.15,-2.9L-0.55,-2.9L-0.55,-5.9L0.55,-5.9L0.55,-2.9L1.15,-2.9Z",
                          "M0,0L-1.15,2.9L-0.55,2.9L-0.55,5.9L0.55,5.9L0.55,2.9L1.15,2.9Z"]}},
            "stroke": {"field": "side", "type": "nominal", "legend": null,
              "scale": {"domain": ["buy", "sell"], "range": ["#22b14c", "#ed1c24"]}}
          }
        },
        {
          "data": {"name": "notesCentered"},
          "mark": {"type": "text", "font": "Liberation Sans", "fontWeight": "bold", "fontSize": 13, "color": "#14142e", "align": "center", "baseline": "middle"},
          "encoding": {
            "x": {"field": "i", "type": "quantitative", "title": null},
            "y": {"field": "p", "type": "quantitative", "title": null},
            "text": {"field": "t"}
          }
        },
        {
          "data": {"name": "notesLeft"},
          "mark": {"type": "text", "font": "Liberation Sans", "fontWeight": "bold", "fontSize": 13, "color": "#14142e", "align": "left", "baseline": "middle"},
          "encoding": {
            "x": {"field": "i", "type": "quantitative", "title": null},
            "y": {"field": "p", "type": "quantitative", "title": null},
            "text": {"field": "t"}
          }
        },
        {
          "data": {"name": "priceLabels"},
          "mark": {"type": "text", "font": "Liberation Sans", "fontSize": 12, "color": "black", "align": "left", "baseline": "middle"},
          "encoding": {
            "x": {"datum": 314.5},
            "y": {"field": "p", "type": "quantitative", "title": null},
            "text": {"field": "t"}
          }
        },
        {
          "data": {"name": "tagVwap"},
          "mark": {"type": "bar", "size": 14, "color": "#00ffff"},
          "encoding": {
            "x": {"datum": 313.6}, "x2": {"datum": 322.6},
            "y": {"field": "p", "type": "quantitative", "title": null}
          }
        },
        {
          "data": {"name": "tagVwap"},
          "mark": {"type": "text", "font": "Liberation Sans", "fontSize": 12, "color": "white", "align": "left", "baseline": "middle"},
          "encoding": {
            "x": {"datum": 314.3},
            "y": {"field": "p", "type": "quantitative", "title": null},
            "text": {"field": "label"}
          }
        },
        {
          "data": {"name": "tagPoc"},
          "mark": {"type": "bar", "size": 14, "color": "black"},
          "encoding": {
            "x": {"datum": 313.6}, "x2": {"datum": 322.6},
            "y": {"field": "p", "type": "quantitative", "title": null}
          }
        },
        {
          "data": {"name": "tagPoc"},
          "mark": {"type": "text", "font": "Liberation Sans", "fontSize": 12, "color": "white", "align": "left", "baseline": "middle"},
          "encoding": {
            "x": {"datum": 314.3},
            "y": {"field": "p", "type": "quantitative", "title": null},
            "text": {"field": "label"}
          }
        },
        {
          "data": {"name": "tagLast"},
          "mark": {"type": "bar", "size": 14, "color": "black"},
          "encoding": {
            "x": {"datum": 313.6}, "x2": {"datum": 322.6},
            "y": {"field": "p", "type": "quantitative", "title": null}
          }
        },
        {
          "data": {"name": "tagLast"},
          "mark": {"type": "text", "font": "Liberation Sans", "fontSize": 12, "color": "white", "align": "left", "baseline": "middle"},
          "encoding": {
            "x": {"datum": 314.3},
            "y": {"field": "p", "type": "quantitative", "title": null},
            "text": {"field": "label"}
          }
        },
        {
          "data": {"values": [{"d": "8-29"}]},
          "mark": {"type": "bar", "size": 15, "color": "black"},
          "encoding": {
            "x": {"datum": -0.6}, "x2": {"datum": 3.6},
            "y": {"datum": 1623.68}
          }
        },
        {
          "data": {"values": [{"d": "2"}]},
          "mark": {"type": "bar", "size": 16, "color": "#00c000"},
          "encoding": {
            "x": {"datum": 320.3}, "x2": {"datum": 322.6},
            "y": {"datum": 1623.72}
          }
        },
        {
          "data": {"values": [{"d": "2"}]},
          "mark": {"type": "text", "font": "Liberation Sans", "fontSize": 12, "color": "black", "align": "center", "baseline": "middle"},
          "encoding": {
            "x": {"datum": 321.45},
            "y": {"datum": 1623.72},
            "text": {"field": "d"}
          }
        }
      ]
    }
  ],
  "resolve": {"scale": {"x": "independent"}}
}
